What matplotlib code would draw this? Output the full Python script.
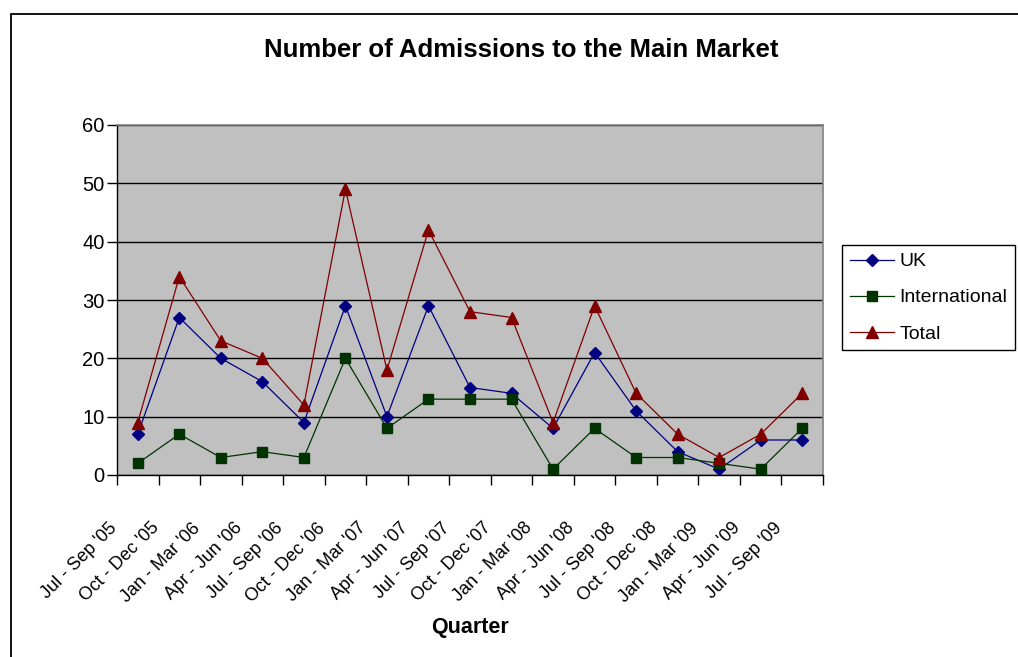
import matplotlib
matplotlib.use('Agg')
import matplotlib.pyplot as plt
from matplotlib.patches import Rectangle
from matplotlib.transforms import ScaledTranslation
import numpy as np

# data
quarters = ["Jul - Sep '05", "Oct - Dec '05", "Jan - Mar '06", "Apr - Jun '06",
            "Jul - Sep '06", "Oct - Dec '06", "Jan - Mar '07", "Apr - Jun '07",
            "Jul - Sep '07", "Oct - Dec '07", "Jan - Mar '08", "Apr - Jun '08",
            "Jul - Sep '08", "Oct - Dec '08", "Jan - Mar '09", "Apr - Jun '09",
            "Jul - Sep '09"]
uk = [7, 27, 20, 16, 9, 29, 10, 29, 15, 14, 8, 21, 11, 4, 1, 6, 6]
international = [2, 7, 3, 4, 3, 20, 8, 13, 13, 13, 1, 8, 3, 3, 2, 1, 8]
total = [9, 34, 23, 20, 12, 49, 18, 42, 28, 27, 9, 29, 14, 7, 3, 7, 14]

plt.rcParams['font.family'] = ['Liberation Sans', 'DejaVu Sans']

fig = plt.figure(figsize=(10.18, 6.57), dpi=100)
W, H = 1018, 657

# outer chart frame (clipped at right/bottom like the screenshot)
fig.patches.append(Rectangle((11 / W, -0.1), 1.2, 1 - 14 / H + 0.1,
                             transform=fig.transFigure, fill=False,
                             edgecolor='black', linewidth=1.3))

ax = fig.add_axes([117 / W, 1 - 475 / H, (823 - 117) / W, (475 - 125) / H])
ax.set_facecolor('#C0C0C0')

x = np.arange(len(quarters))
ax.plot(x, uk, color='#000080', marker='D', markersize=6.5, linewidth=0.9,
        label='UK', zorder=3)
ax.plot(x, international, color='#003300', marker='s', markersize=7, linewidth=0.9,
        label='International', zorder=3)
ax.plot(x, total, color='#800000', marker='^', markersize=8, linewidth=0.9,
        label='Total', zorder=3)

ax.set_xlim(-0.5, len(quarters) - 0.5)
ax.set_ylim(0, 60)
ax.set_yticks(range(0, 61, 10))
ax.yaxis.grid(True, color='black', linewidth=1.0)
ax.set_axisbelow(True)

# category labels at the centres, tick marks between categories
ax.set_xticks(x)
ax.set_xticklabels(quarters, rotation=45, ha='right', fontsize=13)
ax.set_xticks(np.arange(-0.5, len(quarters)), minor=True)
ax.tick_params(axis='x', which='major', length=0, pad=32)
ax.tick_params(axis='x', which='minor', length=7, width=1, direction='out')
ax.tick_params(axis='y', length=7, width=1, direction='out', labelsize=14.5, pad=2)
for lab in ax.get_xticklabels():
    lab.set_transform(lab.get_transform() + ScaledTranslation(-0.17, 0, fig.dpi_scale_trans))

for side in ['left', 'bottom']:
    ax.spines[side].set_color('black')
    ax.spines[side].set_linewidth(1.0)
for side in ['top', 'right']:
    ax.spines[side].set_color('#808080')
    ax.spines[side].set_linewidth(1.2)

fig.text(521 / W, 1 - 50 / H, 'Number of Admissions to the Main Market',
         ha='center', va='center', fontsize=18.5, fontweight='bold')
fig.text(470 / W, 1 - 628 / H, 'Quarter', ha='center', va='center',
         fontsize=15.5, fontweight='bold')

leg = fig.legend(loc='upper left', bbox_to_anchor=(842 / W, 1 - 245 / H),
                 fontsize=14, frameon=True, fancybox=False, framealpha=1,
                 edgecolor='black', handlelength=2.25, handletextpad=0.3,
                 borderpad=0.4, labelspacing=0.95, borderaxespad=0)
leg.get_frame().set_linewidth(1.0)

fig.savefig('out.png', dpi=100)
